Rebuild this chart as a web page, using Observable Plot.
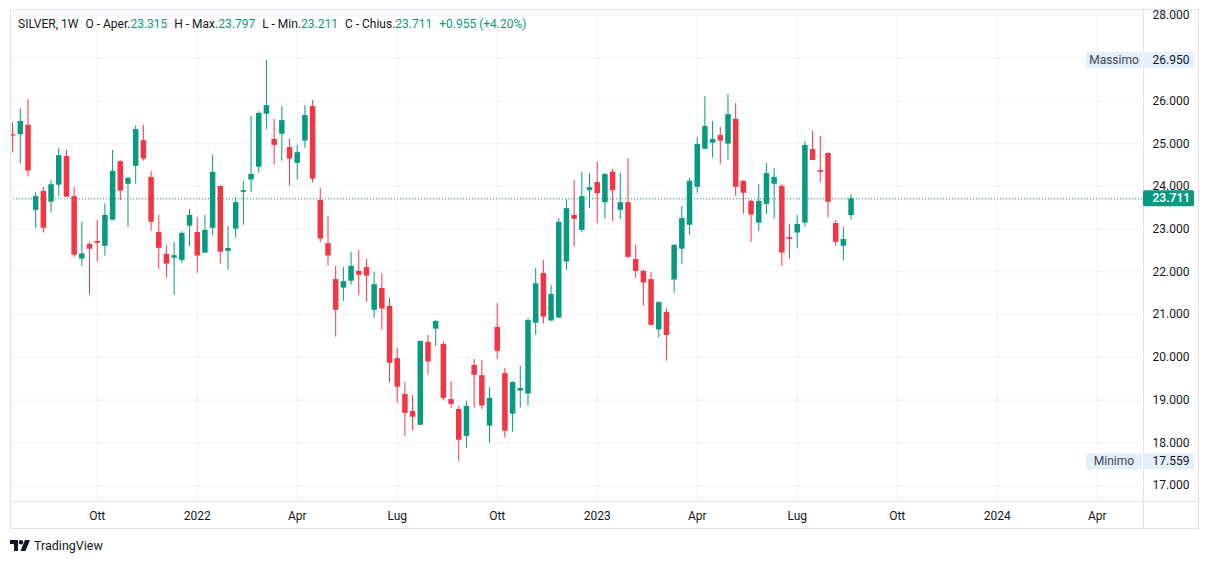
<!DOCTYPE html>
<html>
<head>
<meta charset="utf-8">
<script src="https://cdn.jsdelivr.net/npm/d3@7"></script>
<script src="https://cdn.jsdelivr.net/npm/@observablehq/plot@0.6"></script>
<style>
  body { margin: 0; background: #ffffff; font-family: Roboto, "Noto Sans", sans-serif; }
  #wrap { position: relative; width: 1209px; height: 564px; overflow: hidden; }
  #header { position: absolute; left: 18px; top: 17px; font-size: 12px; color: #131722; white-space: pre; }
  #header .v { color: #089981; }
  #header .g { margin-left: 7px; }
  #logo { position: absolute; left: 10px; top: 538px; display: flex; align-items: center; font-size: 12.5px; color: #131722; }
  #logo svg { margin-right: 4px; }
</style>
</head>
<body>
<div id="wrap">
  <div id="chart"></div>
  <div id="header"></div>
  <div id="logo"><svg width="20" height="12" viewBox="0 0 20 12"><path d="M0 0H8V11H4V4H0Z" fill="#131722"/><circle cx="11" cy="2.2" r="2.2" fill="#131722"/><path d="M15 0H20L15.5 11H10.5Z" fill="#131722"/></svg><span>TradingView</span></div>
</div>
<script>
// ---- data (weekly SILVER bars, Monday dates) ----
const firstWeek = "2021-07-19";
const lastWeek = "2023-08-21";
const opens = [
  25.21, 25.21, 25.43, 23.44, 23.88, 23.63, 24.03, 24.70, 23.76, 22.30,
  22.64, 22.71, 22.60, 23.21, 24.58, 24.05, 24.47, 25.07, 24.21, 22.92,
  22.41, 22.32, 22.27, 23.07, 22.92, 22.44, 23.02, 24.00, 22.48, 23.00,
  23.86, 24.15, 24.45, 25.69, 25.10, 25.22, 24.91, 24.54, 25.06, 25.87,
  23.67, 22.66, 21.82, 21.62, 21.78, 22.01, 22.10, 21.10, 21.61, 21.19,
  19.97, 19.13, 18.73, 18.41, 20.35, 20.66, 20.30, 19.01, 18.78, 18.15,
  19.81, 19.57, 18.39, 20.70, 19.62, 18.67, 19.21, 19.14, 20.80, 21.96,
  20.85, 20.92, 22.23, 23.32, 22.97, 23.90, 24.09, 23.62, 24.33, 23.44,
  23.62, 22.29, 22.01, 21.82, 20.64, 21.05, 21.81, 22.53, 23.09, 23.98,
  24.87, 25.01, 25.19, 24.99, 25.57, 24.12, 23.65, 23.14, 23.58, 24.05,
  24.00, 22.80, 22.91, 23.14, 24.86, 24.37, 24.77, 23.13, 22.60, 23.315
];
const highs = [
  25.50, 25.82, 26.03, 23.86, 23.97, 24.14, 24.89, 24.84, 23.97, 23.16,
  22.69, 23.20, 23.59, 24.84, 24.60, 24.20, 25.41, 25.43, 24.35, 23.32,
  22.62, 22.69, 22.94, 23.46, 23.27, 23.32, 24.72, 24.01, 23.06, 23.74,
  24.12, 25.64, 25.75, 26.95, 25.57, 25.87, 25.10, 24.96, 25.89, 26.01,
  23.95, 23.30, 22.13, 22.10, 22.46, 22.50, 22.29, 21.99, 21.96, 21.38,
  20.21, 19.41, 19.11, 20.38, 20.51, 20.86, 20.36, 19.43, 18.85, 18.97,
  19.95, 19.93, 19.29, 21.26, 19.74, 19.43, 19.79, 20.91, 22.08, 22.27,
  21.68, 23.25, 23.69, 24.14, 24.33, 24.30, 24.56, 24.30, 24.40, 24.30,
  24.65, 22.62, 22.05, 21.99, 21.30, 21.14, 22.64, 23.53, 24.19, 25.14,
  26.10, 25.52, 25.38, 26.15, 25.94, 24.13, 23.67, 24.04, 24.54, 24.42,
  24.04, 23.11, 23.32, 25.05, 25.29, 25.17, 24.78, 23.20, 23.04, 23.797
];
const lows = [
  24.78, 24.52, 24.22, 23.02, 22.91, 23.37, 23.76, 23.74, 22.34, 22.13,
  21.45, 22.23, 22.37, 23.20, 23.67, 23.05, 24.05, 24.59, 22.95, 22.06,
  21.85, 21.45, 22.20, 22.60, 21.97, 22.43, 22.84, 22.18, 22.04, 22.79,
  23.09, 23.86, 24.31, 25.33, 24.50, 24.59, 24.01, 24.15, 24.89, 24.08,
  22.69, 22.13, 20.47, 21.31, 21.69, 21.45, 21.29, 20.92, 20.64, 19.40,
  18.93, 18.15, 18.27, 18.40, 19.58, 20.25, 18.98, 18.81, 17.559, 17.87,
  18.81, 18.78, 17.99, 19.95, 18.11, 18.25, 18.81, 18.86, 20.52, 20.78,
  20.84, 20.90, 22.04, 22.58, 22.91, 23.48, 23.13, 23.23, 23.18, 23.23,
  22.32, 21.85, 21.20, 20.73, 20.45, 19.91, 21.50, 22.18, 22.86, 23.84,
  24.86, 24.66, 24.52, 24.61, 23.77, 23.35, 22.69, 22.95, 23.35, 23.23,
  22.13, 22.30, 22.55, 23.05, 24.60, 24.08, 23.26, 22.60, 22.25, 23.211
];
const closes = [
  25.18, 25.52, 24.36, 23.76, 23.02, 24.04, 24.72, 23.75, 22.39, 22.42,
  22.53, 22.67, 23.32, 24.35, 23.89, 24.19, 25.33, 24.64, 23.16, 22.55,
  22.18, 22.38, 22.90, 23.32, 22.37, 22.97, 24.33, 22.46, 22.55, 23.62,
  23.90, 24.28, 25.71, 25.89, 24.96, 25.54, 24.64, 24.79, 25.66, 24.17,
  22.77, 22.37, 21.10, 21.77, 22.13, 21.92, 21.90, 21.70, 21.13, 19.86,
  19.30, 18.69, 18.60, 20.37, 19.89, 20.84, 19.04, 18.90, 18.06, 18.85,
  19.58, 18.86, 19.04, 20.14, 18.27, 19.41, 19.27, 20.86, 21.72, 20.94,
  21.47, 23.16, 23.48, 23.23, 23.76, 23.97, 23.83, 24.28, 23.90, 23.62,
  22.34, 22.01, 21.74, 20.75, 21.28, 20.51, 22.62, 23.25, 24.12, 24.98,
  25.40, 25.10, 25.06, 25.68, 23.98, 23.84, 23.33, 23.65, 24.30, 24.21,
  22.44, 22.76, 23.11, 24.96, 24.61, 24.33, 23.63, 22.69, 22.756, 23.711
];
const priceTicks = [17, 18, 19, 20, 21, 22, 23, 24, 25, 26, 28];
const gridPrices = [17, 18, 19, 20, 21, 22, 23, 24, 25, 26, 27, 28];
const timeTickDates = ["2021-10-04","2022-01-03","2022-04-04","2022-07-04","2022-10-03","2023-01-02","2023-04-03","2023-07-03","2023-10-02","2024-01-01","2024-04-01"];
const timeTickLabels = ["Ott","2022","Apr","Lug","Ott","2023","Apr","Lug","Ott","2024","Apr"];
const symbol = "SILVER, 1W";

// ---- build table ----
const weeks = d3.utcMonday.range(new Date(firstWeek), d3.utcDay.offset(new Date(lastWeek), 1));
const bars = weeks.map((date, i) => ({date, open: opens[i], high: highs[i], low: lows[i], close: closes[i]}));
const UP = "#089981", DOWN = "#F23645";
const col = d => d.close >= d.open ? UP : DOWN;
const tickDates = timeTickDates.map(s => new Date(s));
const tickLabel = new Map(tickDates.map((d, i) => [+d, timeTickLabels[i]]));
const last = bars[bars.length - 1];
const prev = bars[bars.length - 2];
const hiBar = bars.reduce((a, b) => b.high > a.high ? b : a);
const loBar = bars.reduce((a, b) => b.low < a.low ? b : a);
const fmt = d3.format(".3f");

const W = 1209, H = 564;
const chart = Plot.plot({
  width: W, height: H,
  marginLeft: 10, marginRight: 66, marginTop: 9, marginBottom: 63,
  style: {fontFamily: "Roboto, 'Noto Sans', sans-serif", fontSize: "12px", color: "#131722", background: "#ffffff"},
  x: {type: "utc", domain: [new Date("2021-07-17T02:00Z"), new Date("2024-05-13T03:00Z")]},
  y: {domain: [16.626, 28.14]},
  marks: [
    Plot.ruleY(gridPrices, {stroke: "#f0f3fa", strokeWidth: 1}),
    Plot.ruleX(tickDates, {stroke: "#f0f3fa", strokeWidth: 1}),
    Plot.ruleY([last.close], {stroke: UP, strokeWidth: 1, strokeDasharray: "1,2"}),
    Plot.ruleX(bars, {x: "date", y1: "low", y2: "high", stroke: col, strokeWidth: 1}),
    Plot.ruleX(bars, {x: "date", y1: "open", y2: "close", stroke: col, strokeWidth: 5.5, strokeLinecap: "butt"}),
    Plot.axisY(priceTicks, {anchor: "right", tickFormat: fmt, tickSize: 0, tickPadding: 9, label: null, fill: "#131722"}),
    Plot.axisX(tickDates, {anchor: "bottom", tickFormat: d => tickLabel.get(+d), tickSize: 0, tickPadding: 10, label: null, fill: "#131722"})
  ]
});
document.getElementById("chart").appendChild(chart);

// ---- frame, price tags ----
const svg = d3.select(chart);
const y = chart.scale("y");
const border = "#e0e3eb";
const deco = svg.append("g");
deco.append("rect").attr("x", 10.5).attr("y", 9.5).attr("width", 1188).attr("height", 519).attr("fill", "none").attr("stroke", border);
deco.append("line").attr("x1", 10).attr("x2", 1198).attr("y1", 501.5).attr("y2", 501.5).attr("stroke", border);
deco.append("line").attr("x1", 1143.5).attr("x2", 1143.5).attr("y1", 9).attr("y2", 528).attr("stroke", border);

function tag(value, bg, fg, name) {
  const cy = y.apply(value);
  const g = svg.append("g").attr("text-anchor", "start");
  if (name) {
    g.append("rect").attr("x", 1086).attr("y", cy - 8).attr("width", 56).attr("height", 16).attr("rx", 1.5).attr("fill", bg);
    g.append("text").attr("x", 1114).attr("y", cy).attr("dy", "0.35em").attr("text-anchor", "middle")
      .attr("font-size", 12).attr("fill", "#434651").text(name);
  }
  g.append("rect").attr("x", 1143).attr("y", cy - 8).attr("width", 51).attr("height", 16).attr("rx", 1.5).attr("fill", bg);
  g.append("text").attr("x", 1152.5).attr("y", cy).attr("dy", "0.35em").attr("text-anchor", "start")
    .attr("font-size", 12).attr("font-weight", name ? 400 : 600).attr("fill", fg).text(fmt(value));
}
tag(hiBar.high, "#e3effd", "#131722", "Massimo");
tag(loBar.low, "#e3effd", "#131722", "Minimo");
tag(last.close, UP, "#ffffff", null);

// ---- header legend ----
const chg = last.close - prev.close;
const pct = chg / prev.close * 100;
const sign = v => (v >= 0 ? "+" : "") ;
document.getElementById("header").innerHTML =
  `<span>${symbol}</span>` +
  `<span class="g">O - Aper.</span><span class="v">${fmt(last.open)}</span>` +
  `<span class="g">H - Max.</span><span class="v">${fmt(last.high)}</span>` +
  `<span class="g">L - Min.</span><span class="v">${fmt(last.low)}</span>` +
  `<span class="g">C - Chius.</span><span class="v">${fmt(last.close)}</span>` +
  `<span class="g v">${sign(chg)}${fmt(chg)} (${sign(pct)}${pct.toFixed(2)}%)</span>`;
</script>
</body>
</html>
